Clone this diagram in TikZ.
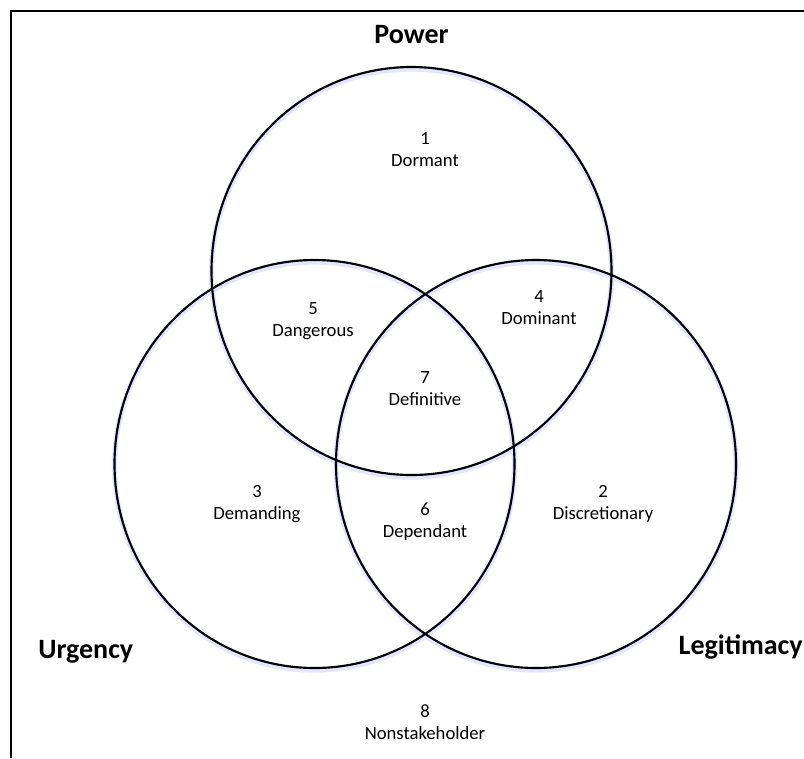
\documentclass[tikz,border=0pt]{standalone}
\usepackage{fontspec}
\setmainfont{Carlito}
\begin{document}
\begin{tikzpicture}[x=0.75pt,y=-0.75pt,
  ring/.style={draw=black,line width=1.6pt},
  glow/.style={draw=blue!10,line width=4pt},
  area/.style={align=center,inner sep=0pt,font=\fontsize{14}{16.5}\selectfont},
  title/.style={inner sep=0pt,font=\fontsize{21}{24}\bfseries\selectfont}]
\useasboundingbox (0,0) rectangle (804,758);
% frame (top and left edges)
\draw[line width=1.6pt] (11,758) -- (11,11) -- (804,11);
% soft halo under the circles
\draw[glow] (411.5,273) ellipse [x radius=200, y radius=204];
\draw[glow] (314.5,466) ellipse [x radius=200, y radius=204];
\draw[glow] (536,466) ellipse [x radius=200, y radius=204];
% the three sets
\draw[ring] (411.5,271) ellipse [x radius=200, y radius=204];
\draw[ring] (314.5,464) ellipse [x radius=200, y radius=204];
\draw[ring] (536,464) ellipse [x radius=200, y radius=204];
% set names
\node[title,anchor=base] (power) at (411.5,43) {Power};
\node[title,anchor=base west] (urgency) at (38,658) {Urgency};
\node[title,anchor=base east] (legit) at (803,654) {Legitimacy};
% regions
\node[area] (r1) at (425,150) {1\\Dormant};
\node[area] (r5) at (313,321) {5\\Dangerous};
\node[area] (r4) at (539,308) {4\\Dominant};
\node[area] (r7) at (425,389) {7\\Definitive};
\node[area] (r3) at (257,504) {3\\Demanding};
\node[area] (r6) at (425,522) {6\\Dependant};
\node[area] (r2) at (603,504) {2\\Discretionary};
\node[area] (r8) at (425,722) {8\\Nonstakeholder};
\end{tikzpicture}
\end{document}
